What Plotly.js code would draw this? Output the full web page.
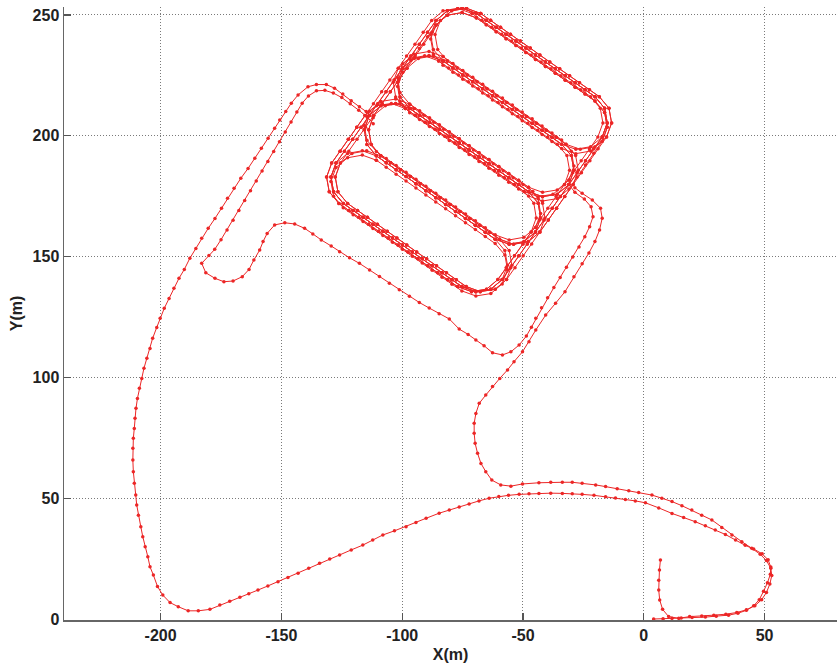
<!DOCTYPE html>
<html><head><meta charset="utf-8">
<script src="https://cdn.plot.ly/plotly-3.0.1.min.js"></script>
<style>html,body{margin:0;padding:0;background:#fff}</style>
</head><body>
<div id="chart" style="width:837px;height:665px"></div>
<script>
// Path from start, east along bottom, north at the tip, west along lower line, big left arc, into the grid
var pathAX = [4.1,8.0,11.7,15.5,20.0,25.5,30.0,35.1,39.0,42.5,45.5,47.8,49.6,51.2,52.4,52.6,51.5,49.0,45.5,42.0,38.0,33.8,29.6,25.5,21.3,16.5,11.7,6.2,0.7,-3.5,-7.6,-11.7,-15.8,-20.6,-25.5,-29.6,-33.7,-38.5,-43.4,-47.5,-51.6,-56.0,-60.0,-64.0,-68.2,-72.3,-76.4,-80.5,-84.7,-90.1,-94.3,-98.4,-103.2,-108.0,-112.2,-116.3,-121.1,-125.9,-130.0,-134.2,-138.7,-143.1,-147.3,-151.4,-155.6,-159.7,-163.5,-167.2,-171.4,-175.5,-179.6,-184.4,-188.6,-192.7,-196.1,-199.1,-201.3,-203.0,-204.4,-205.3,-206.4,-207.4,-208.2,-209.2,-209.9,-210.3,-210.9,-211.3,-211.5,-211.5,-211.3,-210.9,-210.6,-210.2,-209.6,-208.8,-207.8,-206.9,-205.7,-204.4,-203.3,-201.6,-200.2,-198.5,-196.5,-194.5,-192.4,-190.2,-187.9,-185.4,-183.0,-180.3,-177.5,-174.8,-172.3,-169.6,-166.8,-163.8,-161.0,-158.3,-155.5,-152.8,-150.7,-148.2,-145.9,-143.1,-139.0,-135.5,-131.4,-128.0,-124.6,-121.1,-117.7,-114.9,-112.0];
var pathAY = [0.0,0.1,0.3,0.4,0.6,0.8,1.2,1.6,2.4,3.6,5.5,8.0,11.5,15.0,18.5,21.5,24.5,27.0,29.0,30.5,32.7,35.0,36.8,38.6,40.3,42.0,43.7,46.0,48.1,48.9,49.5,50.1,50.6,51.2,51.6,51.9,52.0,52.1,52.0,51.9,51.6,51.2,50.7,50.0,48.9,47.6,46.4,45.1,43.8,41.7,40.0,38.2,36.5,34.8,32.7,30.6,28.6,26.5,24.8,23.1,21.0,18.9,17.2,15.4,13.7,12.0,10.5,9.0,7.4,5.8,4.0,3.4,3.4,5.1,6.8,9.9,13.5,18.2,21.6,25.8,29.9,34.1,38.2,43.0,47.2,51.3,56.2,61.0,65.8,70.7,74.8,78.9,83.1,87.2,91.3,95.5,99.6,103.8,107.9,112.0,116.2,120.7,124.5,128.6,132.7,136.9,141.0,144.7,149.3,153.4,157.6,161.7,165.8,170.0,174.1,178.3,182.4,186.5,190.7,194.8,199.0,203.1,206.5,210.0,213.5,216.9,220.3,221.2,221.2,219.7,217.3,214.5,212.0,210.0,207.5];

// Path out of the grid: inner line, hook, diagonal, back up into the grid
var pathBX = [-112.0,-114.5,-118.0,-121.5,-125.0,-128.5,-132.0,-135.5,-138.8,-141.4,-143.6,-146.0,-148.4,-150.8,-153.2,-155.6,-158.0,-160.4,-162.8,-165.2,-167.6,-170.0,-172.5,-175.0,-177.6,-180.0,-183.0,-181.3,-177.5,-173.8,-170.0,-166.2,-163.4,-161.4,-159.0,-157.6,-155.9,-152.8,-148.6,-144.5,-140.4,-137.0,-133.5,-129.4,-125.9,-121.8,-117.7,-113.5,-109.4,-105.3,-101.2,-97.0,-92.9,-88.8,-84.7,-80.5,-76.4,-72.7,-69.5,-66.1,-62.6,-58.5,-55.0,-51.6,-48.6,-46.5,-44.7,-42.3,-39.8,-37.2,-34.6,-32.0,-29.4,-26.8,-24.4,-22.4,-21.0,-21.8,-24.6,-28.5,-31.0];
var pathBY = [205.0,207.8,210.6,213.3,215.8,217.7,218.8,218.6,216.5,213.5,209.8,205.7,201.6,197.5,193.5,189.4,185.4,181.3,177.3,173.2,169.1,165.0,161.0,157.0,153.0,150.5,147.2,143.3,141.0,139.6,139.9,141.7,144.7,148.6,152.7,156.2,159.6,163.1,164.0,163.5,161.7,159.4,156.9,154.4,152.0,149.5,147.2,144.5,141.8,139.0,136.3,133.6,131.0,128.7,126.3,124.2,120.0,117.8,115.5,113.1,110.2,109.3,110.6,113.4,117.1,120.8,124.5,128.8,133.0,137.2,141.4,145.6,149.8,154.0,158.2,162.4,166.5,170.6,173.8,176.6,179.8];

// Final path: out of the grid, S-curve, east along upper line, south at the tip, back west and up the hook
var pathCX = [-28.5,-25.5,-21.3,-17.9,-17.2,-18.3,-20.2,-22.7,-25.5,-28.9,-32.6,-36.5,-40.6,-44.7,-47.5,-50.2,-53.7,-56.4,-59.6,-62.6,-65.4,-68.1,-69.5,-70.2,-70.2,-69.8,-68.8,-67.4,-65.4,-62.9,-59.2,-55.0,-50.2,-43.4,-38.5,-33.7,-29.6,-25.5,-19.9,-15.8,-11.0,-6.2,-2.1,3.4,7.5,11.7,15.8,19.9,24.0,28.2,32.3,36.5,40.6,44.7,48.2,50.8,52.6,53.0,52.2,50.8,48.8,46.0,42.5,38.5,34.0,29.0,24.0,19.0,14.5,10.3,7.8,6.6,6.2,6.2,6.5,6.9];
var pathCY = [178.5,176.2,173.4,170.0,165.9,161.0,156.2,151.5,147.0,141.7,135.5,130.7,125.8,119.6,114.8,110.6,106.5,103.1,99.6,96.2,92.7,89.3,85.1,81.0,76.9,72.7,68.6,64.4,61.0,57.5,55.5,55.0,55.9,56.4,56.6,56.6,56.6,56.2,55.5,54.8,53.9,53.1,52.4,51.3,50.0,48.6,46.9,45.1,43.0,41.0,37.9,34.8,32.0,29.3,26.8,24.2,21.0,18.0,14.5,11.0,8.0,5.5,3.8,2.7,2.0,1.6,1.3,1.0,0.3,1.0,4.0,7.9,12.0,16.1,20.3,24.4];

// Laps in the grid: outer loop
var lapOutX = [-69.3,-65.2,-61.1,-57.0,-52.9,-48.8,-44.8,-40.7,-36.6,-32.5,-28.4,-24.3,-20.2,-16.2,-15.1,-17.2,-20.7,-24.1,-27.6,-31.0,-34.5,-37.9,-41.3,-44.8,-48.2,-51.7,-55.1,-58.6,-63.3,-69.5,-75.3,-79.4,-83.5,-87.6,-91.7,-95.8,-99.9,-104.0,-108.0,-112.1,-116.2,-120.3,-124.4,-128.4,-129.5,-127.4,-123.9,-120.5,-117.0,-113.6,-110.1,-106.7,-103.3,-99.8,-96.4,-92.9,-89.5,-86.0,-81.3,-75.2,-69.3];
var lapOutY = [250.6,247.8,244.9,242.0,239.2,236.3,233.4,230.5,227.7,224.8,221.9,219.1,216.2,211.4,205.3,199.5,194.6,189.7,184.7,179.8,174.9,170.0,165.1,160.2,155.2,150.3,145.4,140.5,136.5,135.5,137.6,140.4,143.3,146.2,149.1,151.9,154.8,157.7,160.5,163.4,166.3,169.1,172.0,176.8,182.9,188.7,193.6,198.6,203.5,208.4,213.3,218.2,223.1,228.0,233.0,237.9,242.8,247.7,251.7,252.8,250.6];
var lapOutXb = [-71.1,-67.0,-62.9,-58.8,-54.7,-50.6,-46.6,-42.5,-38.4,-34.3,-30.2,-26.1,-22.0,-18.0,-16.9,-19.0,-22.5,-25.9,-29.4,-32.8,-36.3,-39.7,-43.1,-46.6,-50.0,-53.5,-56.9,-60.4,-65.1,-71.3,-77.1,-81.2,-85.3,-89.4,-93.5,-97.6,-101.7,-105.8,-109.8,-113.9,-118.0,-122.1,-126.2,-130.2,-131.3,-129.2,-125.7,-122.3,-118.8,-115.4,-111.9,-108.5,-105.1,-101.6,-98.2,-94.7,-91.3,-87.8,-83.1,-77.0,-71.1];
var lapOutXc = [-67.5,-63.4,-59.3,-55.2,-51.1,-47.0,-43.0,-38.9,-34.8,-30.7,-26.6,-22.5,-18.4,-14.4,-13.3,-15.4,-18.9,-22.3,-25.8,-29.2,-32.7,-36.1,-39.5,-43.0,-46.4,-49.9,-53.3,-56.8,-61.5,-67.7,-73.5,-77.6,-81.7,-85.8,-89.9,-94.0,-98.1,-102.2,-106.2,-110.3,-114.4,-118.5,-122.6,-126.6,-127.7,-125.6,-122.1,-118.7,-115.2,-111.8,-108.3,-104.9,-101.5,-98.0,-94.6,-91.1,-87.7,-84.2,-79.5,-73.4,-67.5];

// Single-row loops
var lapH1X = [-69.3,-65.2,-61.1,-57.0,-52.9,-48.8,-44.8,-40.7,-36.6,-32.5,-28.4,-24.3,-20.2,-16.2,-15.1,-17.2,-22.0,-28.1,-34.0,-38.0,-42.1,-46.2,-50.3,-54.4,-58.5,-62.6,-66.7,-70.8,-74.9,-79.0,-83.1,-87.1,-88.2,-86.0,-81.3,-75.2,-69.3];
var lapH1Y = [250.6,247.8,244.9,242.0,239.2,236.3,233.4,230.5,227.7,224.8,221.9,219.1,216.2,211.4,205.3,199.5,195.5,194.4,196.5,199.4,202.3,205.2,208.0,210.9,213.8,216.6,219.5,222.4,225.2,228.1,231.0,235.7,241.9,247.7,251.7,252.8,250.6];
var lapH1Xb = [-67.5,-63.4,-59.3,-55.2,-51.1,-47.0,-43.0,-38.9,-34.8,-30.7,-26.6,-22.5,-18.4,-14.4,-13.3,-15.4,-20.2,-26.3,-32.2,-36.2,-40.3,-44.4,-48.5,-52.6,-56.7,-60.8,-64.9,-69.0,-73.1,-77.2,-81.3,-85.3,-86.4,-84.2,-79.5,-73.4,-67.5];
var lapH1Yc = [248.8,246.0,243.1,240.2,237.4,234.5,231.6,228.7,225.9,223.0,220.1,217.3,214.4,209.6,203.5,197.7,193.7,192.6,194.7,197.6,200.5,203.4,206.2,209.1,212.0,214.8,217.7,220.6,223.4,226.3,229.2,233.9,240.1,245.9,249.9,251.0,248.8];

var lapH2X = [-83.1,-79.0,-74.9,-70.8,-66.7,-62.6,-58.5,-54.4,-50.3,-46.2,-42.1,-38.0,-34.0,-30.0,-28.9,-31.0,-35.8,-41.9,-47.7,-51.8,-55.9,-60.0,-64.1,-68.2,-72.3,-76.4,-80.5,-84.6,-88.7,-92.8,-96.9,-100.9,-101.9,-99.8,-95.1,-88.9,-83.1];
var lapH2Y = [231.0,228.1,225.2,222.4,219.5,216.6,213.8,210.9,208.0,205.2,202.3,199.4,196.5,191.8,185.7,179.8,175.8,174.8,176.9,179.8,182.6,185.5,188.4,191.2,194.1,197.0,199.8,202.7,205.6,208.5,211.3,216.1,222.2,228.0,232.0,233.1,231.0];
var lapH2Xb = [-84.9,-80.8,-76.7,-72.6,-68.5,-64.4,-60.3,-56.2,-52.1,-48.0,-43.9,-39.8,-35.8,-31.8,-30.7,-32.8,-37.6,-43.7,-49.5,-53.6,-57.7,-61.8,-65.9,-70.0,-74.1,-78.2,-82.3,-86.4,-90.5,-94.6,-98.7,-102.7,-103.7,-101.6,-96.9,-90.7,-84.9];
var lapH2Yc = [232.8,229.9,227.0,224.2,221.3,218.4,215.6,212.7,209.8,207.0,204.1,201.2,198.3,193.6,187.5,181.6,177.6,176.6,178.7,181.6,184.4,187.3,190.2,193.0,195.9,198.8,201.6,204.5,207.4,210.3,213.1,217.9,224.0,229.8,233.8,234.9,232.8];

var lapH3X = [-96.9,-92.8,-88.7,-84.6,-80.5,-76.4,-72.3,-68.2,-64.1,-60.0,-55.9,-51.8,-47.7,-43.7,-42.7,-44.8,-49.6,-55.7,-61.5,-65.6,-69.7,-73.8,-77.9,-82.0,-86.1,-90.2,-94.3,-98.4,-102.5,-106.6,-110.7,-114.6,-115.7,-113.6,-108.8,-102.7,-96.9];
var lapH3Y = [211.3,208.5,205.6,202.7,199.8,197.0,194.1,191.2,188.4,185.5,182.6,179.8,176.9,172.1,166.0,160.2,156.2,155.1,157.2,160.1,163.0,165.8,168.7,171.6,174.4,177.3,180.2,183.1,185.9,188.8,191.7,196.4,202.5,208.4,212.4,213.4,211.3];
var lapH3Yb = [213.1,210.3,207.4,204.5,201.6,198.8,195.9,193.0,190.2,187.3,184.4,181.6,178.7,173.9,167.8,162.0,158.0,156.9,159.0,161.9,164.8,167.6,170.5,173.4,176.2,179.1,182.0,184.9,187.7,190.6,193.5,198.2,204.3,210.2,214.2,215.2,213.1];
var lapH3Xc = [-95.1,-91.0,-86.9,-82.8,-78.7,-74.6,-70.5,-66.4,-62.3,-58.2,-54.1,-50.0,-45.9,-41.9,-40.9,-43.0,-47.8,-53.9,-59.7,-63.8,-67.9,-72.0,-76.1,-80.2,-84.3,-88.4,-92.5,-96.6,-100.7,-104.8,-108.9,-112.8,-113.9,-111.8,-107.0,-100.9,-95.1];

var lapH4X = [-110.7,-106.6,-102.5,-98.4,-94.3,-90.2,-86.1,-82.0,-77.9,-73.8,-69.7,-65.6,-61.5,-57.5,-56.4,-58.6,-63.3,-69.5,-75.3,-79.4,-83.5,-87.6,-91.7,-95.8,-99.9,-104.0,-108.0,-112.1,-116.2,-120.3,-124.4,-128.4,-129.5,-127.4,-122.6,-116.5,-110.7];
var lapH4Y = [191.7,188.8,185.9,183.1,180.2,177.3,174.4,171.6,168.7,165.8,163.0,160.1,157.2,152.5,146.4,140.5,136.5,135.5,137.6,140.4,143.3,146.2,149.1,151.9,154.8,157.7,160.5,163.4,166.3,169.1,172.0,176.8,182.9,188.7,192.7,193.8,191.7];
var lapH4Xb = [-108.9,-104.8,-100.7,-96.6,-92.5,-88.4,-84.3,-80.2,-76.1,-72.0,-67.9,-63.8,-59.7,-55.7,-54.6,-56.8,-61.5,-67.7,-73.5,-77.6,-81.7,-85.8,-89.9,-94.0,-98.1,-102.2,-106.2,-110.3,-114.4,-118.5,-122.6,-126.6,-127.7,-125.6,-120.8,-114.7,-108.9];
var lapH4Yc = [189.9,187.0,184.1,181.3,178.4,175.5,172.6,169.8,166.9,164.0,161.2,158.3,155.4,150.7,144.6,138.7,134.7,133.7,135.8,138.6,141.5,144.4,147.3,150.1,153.0,155.9,158.7,161.6,164.5,167.3,170.2,175.0,181.1,186.9,190.9,192.0,189.9];

// Double-row loops
var lapH12X = [-69.3,-65.2,-61.1,-57.0,-52.9,-48.8,-44.8,-40.7,-36.6,-32.5,-28.4,-24.3,-20.2,-16.2,-15.1,-17.2,-20.7,-24.1,-27.6,-31.0,-35.8,-41.9,-47.7,-51.8,-55.9,-60.0,-64.1,-68.2,-72.3,-76.4,-80.5,-84.6,-88.7,-92.8,-96.9,-100.9,-101.9,-99.8,-96.4,-92.9,-89.5,-86.0,-81.3,-75.2,-69.3];
var lapH12Y = [250.6,247.8,244.9,242.0,239.2,236.3,233.4,230.5,227.7,224.8,221.9,219.1,216.2,211.4,205.3,199.5,194.6,189.7,184.7,179.8,175.8,174.8,176.9,179.8,182.6,185.5,188.4,191.2,194.1,197.0,199.8,202.7,205.6,208.5,211.3,216.1,222.2,228.0,233.0,237.9,242.8,247.7,251.7,252.8,250.6];
var lapH12Yb = [248.8,246.0,243.1,240.2,237.4,234.5,231.6,228.7,225.9,223.0,220.1,217.3,214.4,209.6,203.5,197.7,192.8,187.9,182.9,178.0,174.0,173.0,175.1,178.0,180.8,183.7,186.6,189.4,192.3,195.2,198.0,200.9,203.8,206.7,209.5,214.3,220.4,226.2,231.2,236.1,241.0,245.9,249.9,251.0,248.8];

var lapH34X = [-96.9,-92.8,-88.7,-84.6,-80.5,-76.4,-72.3,-68.2,-64.1,-60.0,-55.9,-51.8,-47.7,-43.7,-42.7,-44.8,-48.2,-51.7,-55.1,-58.6,-63.3,-69.5,-75.3,-79.4,-83.5,-87.6,-91.7,-95.8,-99.9,-104.0,-108.0,-112.1,-116.2,-120.3,-124.4,-128.4,-129.5,-127.4,-123.9,-120.5,-117.0,-113.6,-108.8,-102.7,-96.9];
var lapH34Y = [211.3,208.5,205.6,202.7,199.8,197.0,194.1,191.2,188.4,185.5,182.6,179.8,176.9,172.1,166.0,160.2,155.2,150.3,145.4,140.5,136.5,135.5,137.6,140.4,143.3,146.2,149.1,151.9,154.8,157.7,160.5,163.4,166.3,169.1,172.0,176.8,182.9,188.7,193.6,198.6,203.5,208.4,212.4,213.4,211.3];
var lapH34Xb = [-98.7,-94.6,-90.5,-86.4,-82.3,-78.2,-74.1,-70.0,-65.9,-61.8,-57.7,-53.6,-49.5,-45.5,-44.5,-46.6,-50.0,-53.5,-56.9,-60.4,-65.1,-71.3,-77.1,-81.2,-85.3,-89.4,-93.5,-97.6,-101.7,-105.8,-109.8,-113.9,-118.0,-122.1,-126.2,-130.2,-131.3,-129.2,-125.7,-122.3,-118.8,-115.4,-110.6,-104.5,-98.7];

var lapH23X = [-83.1,-79.0,-74.9,-70.8,-66.7,-62.6,-58.5,-54.4,-50.3,-46.2,-42.1,-38.0,-34.0,-30.0,-28.9,-31.0,-34.5,-37.9,-41.3,-44.8,-49.6,-55.7,-61.5,-65.6,-69.7,-73.8,-77.9,-82.0,-86.1,-90.2,-94.3,-98.4,-102.5,-106.6,-110.7,-114.6,-115.7,-113.6,-110.1,-106.7,-103.3,-99.8,-95.1,-88.9,-83.1];
var lapH23Y = [231.0,228.1,225.2,222.4,219.5,216.6,213.8,210.9,208.0,205.2,202.3,199.4,196.5,191.8,185.7,179.8,174.9,170.0,165.1,160.2,156.2,155.1,157.2,160.1,163.0,165.8,168.7,171.6,174.4,177.3,180.2,183.1,185.9,188.8,191.7,196.4,202.5,208.4,213.3,218.2,223.1,228.0,232.0,233.1,231.0];
var lapH23Xb = [-81.3,-77.2,-73.1,-69.0,-64.9,-60.8,-56.7,-52.6,-48.5,-44.4,-40.3,-36.2,-32.2,-28.2,-27.1,-29.2,-32.7,-36.1,-39.5,-43.0,-47.8,-53.9,-59.7,-63.8,-67.9,-72.0,-76.1,-80.2,-84.3,-88.4,-92.5,-96.6,-100.7,-104.8,-108.9,-112.8,-113.9,-111.8,-108.3,-104.9,-101.5,-98.0,-93.3,-87.1,-81.3];

var xTickVals = [-200,-150,-100,-50,0,50];
var xTickText = ['-200','-150','-100','-50','0','50'];
var yTickVals = [0,50,100,150,200,250];
var yTickText = ['0','50','100','150','200','250'];

var red = 'rgb(236,38,38)';
function seg(x, y) {
  return {x: x, y: y, type: 'scatter', mode: 'lines+markers', hoverinfo: 'skip',
    line: {color: red, width: 1}, marker: {color: red, size: 3.5, symbol: 'circle'}};
}
var data = [
  seg(pathAX, pathAY), seg(pathBX, pathBY), seg(pathCX, pathCY),
  seg(lapOutX, lapOutY), seg(lapOutXb, lapOutY), seg(lapOutXc, lapOutY),
  seg(lapH1X, lapH1Y), seg(lapH1Xb, lapH1Y), seg(lapH1X, lapH1Yc),
  seg(lapH2X, lapH2Y), seg(lapH2Xb, lapH2Y), seg(lapH2X, lapH2Yc),
  seg(lapH3X, lapH3Y), seg(lapH3X, lapH3Yb), seg(lapH3Xc, lapH3Y),
  seg(lapH4X, lapH4Y), seg(lapH4Xb, lapH4Y), seg(lapH4X, lapH4Yc),
  seg(lapH12X, lapH12Y), seg(lapH12X, lapH12Yb),
  seg(lapH34X, lapH34Y), seg(lapH34Xb, lapH34Y),
  seg(lapH23X, lapH23Y), seg(lapH23Xb, lapH23Y)
];
var fam = 'Liberation Sans, Arial, Helvetica, sans-serif';
var axisCommon = {
  ticks: 'inside', ticklen: 7, tickwidth: 1.3, tickcolor: '#555',
  showline: true, linecolor: '#666', linewidth: 1.5, mirror: false,
  showgrid: true, gridcolor: '#7a7a7a', griddash: '1px,2px', gridwidth: 1,
  zeroline: false, tickmode: 'array',
  tickfont: {family: fam, size: 16, color: '#222', weight: 'bold'}
};
var layout = {
  width: 837, height: 665,
  margin: {l: 64, r: 0, t: 7, b: 45},
  paper_bgcolor: '#fff', plot_bgcolor: '#fff',
  showlegend: false,
  font: {family: fam, size: 16, color: '#222'},
  xaxis: Object.assign({}, axisCommon, {
    range: [-240, 80], tickvals: xTickVals, ticktext: xTickText,
    title: {text: 'X(m)', font: {family: fam, size: 16, color: '#222', weight: 'bold'}, standoff: 6}
  }),
  yaxis: Object.assign({}, axisCommon, {
    range: [-0.4, 253.3], tickvals: yTickVals, ticktext: yTickText,
    title: {text: 'Y(m)', font: {family: fam, size: 16, color: '#222', weight: 'bold'}, standoff: 6}
  })
};
Plotly.newPlot('chart', data, layout, {displayModeBar: false, staticPlot: true});
</script>
</body></html>
